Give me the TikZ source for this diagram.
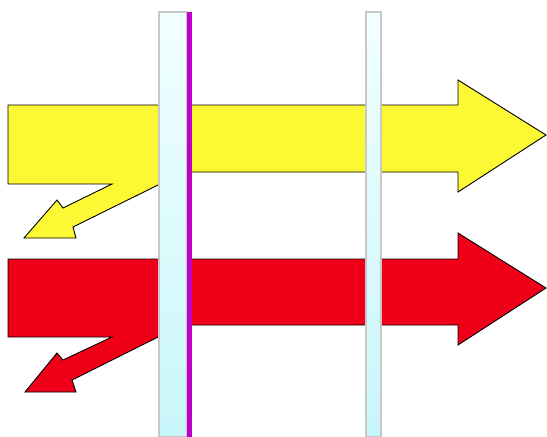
\documentclass[tikz,border=0pt]{standalone}
\begin{document}
\begin{tikzpicture}[x=1pt,y=-1pt,
  arrowshape/.style={draw=black, line width=0.9pt, line join=miter},
  glass/.style={top color=glasstop, bottom color=glassbot, draw=glassedge, line width=1.2pt}]
\definecolor{yel}{RGB}{252,248,52}
\definecolor{rd}{RGB}{240,0,24}
\definecolor{mag}{RGB}{190,0,200}
\definecolor{glasstop}{RGB}{242,255,255}
\definecolor{glassbot}{RGB}{200,246,250}
\definecolor{glassedge}{RGB}{200,200,200}
\useasboundingbox (0,0) rectangle (547,437);
% yellow arrow
\filldraw[arrowshape, fill=yel] (8,105) -- (458,105) -- (458,80) -- (546,135) -- (458,192) -- (458,172)
  -- (170,172) -- (170,185) -- (158,185) -- (73,227) -- (76,238) -- (24,238) -- (57,200) -- (63,208)
  -- (112,184) -- (8,184) -- cycle;
% red arrow
\filldraw[arrowshape, fill=rd] (8,259) -- (458,259) -- (458,233) -- (546,288) -- (458,345) -- (458,325)
  -- (170,325) -- (170,337) -- (158,337) -- (72,380) -- (76,392) -- (25,392) -- (57,353) -- (63,360)
  -- (112,337) -- (8,337) -- cycle;
% glass pane 1
\shade[glass] (159,12) rectangle (187,437);
\fill[mag] (187,12) rectangle (192,437);
% glass pane 2
\shade[glass] (366,12) rectangle (381,437);
\end{tikzpicture}
\end{document}
